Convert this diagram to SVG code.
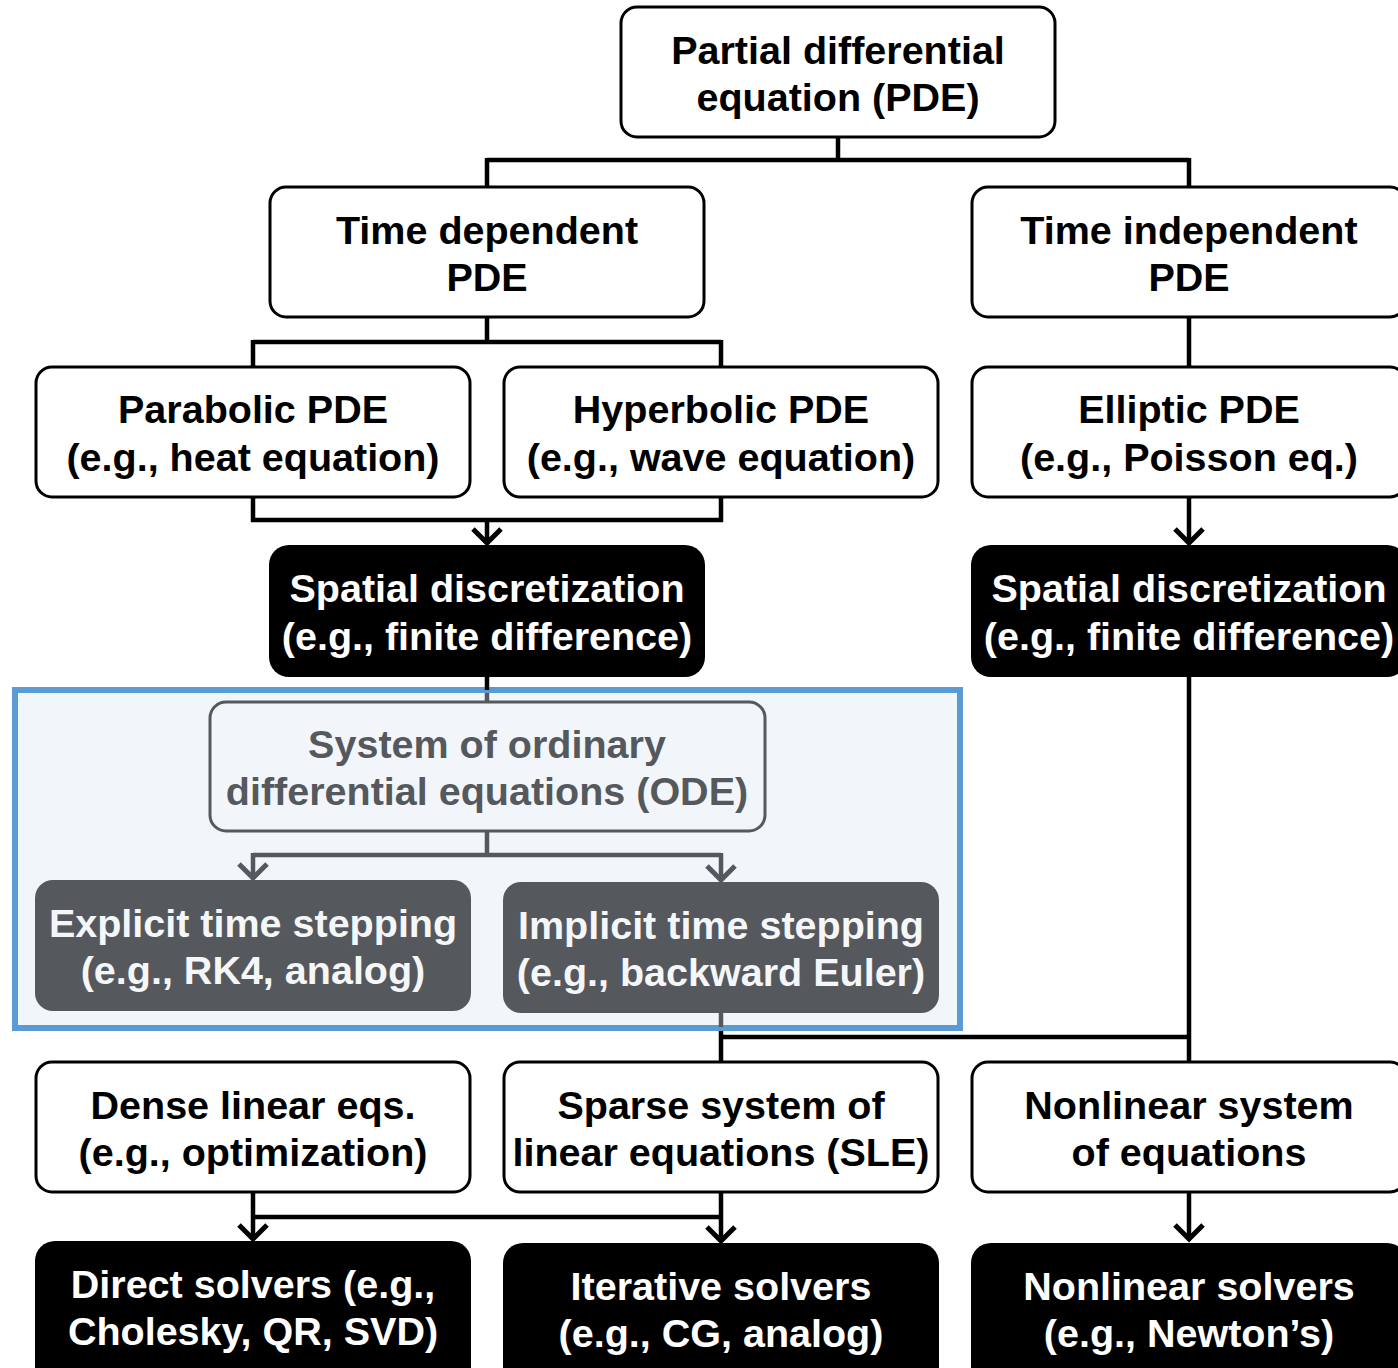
<svg xmlns="http://www.w3.org/2000/svg" width="1398" height="1368" viewBox="0 0 1398 1368">
<style>
.t{font-family:"Liberation Sans",Arial,Helvetica,sans-serif;font-weight:bold;font-size:39.5px;text-anchor:middle}
.w{fill:#fff;stroke:#000;stroke-width:3}
.k{fill:#000}
.g{fill:#55595e}
.o{fill:#f2f6fa;stroke:#55595e;stroke-width:3}
.tk{fill:#000}
.tw{fill:#fff}
.tg{fill:#55595e}
.tl{fill:#f4f6f8}
.ln{fill:none;stroke:#000;stroke-width:4.5}
.lg{fill:none;stroke:#55595e;stroke-width:4.5}
.ah{fill:none;stroke:#000;stroke-width:5}
.ag{fill:none;stroke:#55595e;stroke-width:5}
</style>
<rect width="1398" height="1368" fill="#fff"/>
<g id="ode-region">
<rect x="15" y="690" width="945" height="338" fill="#f1f6fb" stroke="#5b9bd5" stroke-width="6"/>
</g>
<g id="connectors">
<path class="ln" d="M838 137V160M487 160H1189M487 158V187M1189 158V187"/>
<path class="ln" d="M487 317V342M253 342H721M253 340V367M721 340V367"/>
<path class="ln" d="M1189 317V367"/>
<path class="ln" d="M253 497V520H721V497M487 520V542"/>
<path class="ah" d="M473 529L487 543L501 529"/>
<path class="ln" d="M1189 497V542"/>
<path class="ah" d="M1175 529L1189 543L1203 529"/>
<path class="ln" d="M487 677V690"/>
<path class="lg" d="M487 693V702"/>
<path class="lg" d="M487 831V855M253 855H721M253 853V877M721 853V879"/>
<path class="ag" d="M239 864L253 878L267 864M707 866L721 880L735 866"/>
<path class="lg" d="M721 1013V1027"/>
<path class="ln" d="M721 1031V1062M719 1037H1191M1189 677V1062"/>
<path class="ln" d="M253 1192V1238M721 1192V1240M253 1217H721"/>
<path class="ah" d="M239 1225L253 1239L267 1225M707 1227L721 1241L735 1227"/>
<path class="ln" d="M1189 1192V1238"/>
<path class="ah" d="M1175 1225L1189 1239L1203 1225"/>
</g>
<g id="pde">
<rect class="w" x="621" y="7" width="434" height="130" rx="16"/>
<text class="t tk" x="838" y="64">Partial differential</text>
<text class="t tk" x="838" y="111">equation (PDE)</text>
</g>
<g id="time-dependent">
<rect class="w" x="270" y="187" width="434" height="130" rx="16"/>
<text class="t tk" x="487" y="244">Time dependent</text>
<text class="t tk" x="487" y="291">PDE</text>
</g>
<g id="time-independent">
<rect class="w" x="972" y="187" width="434" height="130" rx="16"/>
<text class="t tk" x="1189" y="244">Time independent</text>
<text class="t tk" x="1189" y="291">PDE</text>
</g>
<g id="parabolic">
<rect class="w" x="36" y="367" width="434" height="130" rx="16"/>
<text class="t tk" x="253" y="423">Parabolic PDE</text>
<text class="t tk" x="253" y="471">(e.g., heat equation)</text>
</g>
<g id="hyperbolic">
<rect class="w" x="504" y="367" width="434" height="130" rx="16"/>
<text class="t tk" x="721" y="423">Hyperbolic PDE</text>
<text class="t tk" x="721" y="471">(e.g., wave equation)</text>
</g>
<g id="elliptic">
<rect class="w" x="972" y="367" width="434" height="130" rx="16"/>
<text class="t tk" x="1189" y="423">Elliptic PDE</text>
<text class="t tk" x="1189" y="471">(e.g., Poisson eq.)</text>
</g>
<g id="spatial-left">
<rect class="k" x="269" y="545" width="436" height="132" rx="20"/>
<text class="t tw" x="487" y="602">Spatial discretization</text>
<text class="t tw" x="487" y="650">(e.g., finite difference)</text>
</g>
<g id="spatial-right">
<rect class="k" x="971" y="545" width="436" height="132" rx="20"/>
<text class="t tw" x="1189" y="602">Spatial discretization</text>
<text class="t tw" x="1189" y="650">(e.g., finite difference)</text>
</g>
<g id="ode">
<rect class="o" x="210" y="702" width="555" height="129" rx="16"/>
<text class="t tg" x="487" y="758">System of ordinary</text>
<text class="t tg" x="487" y="805">differential equations (ODE)</text>
</g>
<g id="explicit">
<rect class="g" x="35" y="880" width="436" height="131" rx="18"/>
<text class="t tl" x="253" y="937">Explicit time stepping</text>
<text class="t tl" x="253" y="984">(e.g., RK4, analog)</text>
</g>
<g id="implicit">
<rect class="g" x="503" y="882" width="436" height="131" rx="18"/>
<text class="t tl" x="721" y="939">Implicit time stepping</text>
<text class="t tl" x="721" y="986">(e.g., backward Euler)</text>
</g>
<g id="dense">
<rect class="w" x="36" y="1062" width="434" height="130" rx="16"/>
<text class="t tk" x="253" y="1119">Dense linear eqs.</text>
<text class="t tk" x="253" y="1166">(e.g., optimization)</text>
</g>
<g id="sparse">
<rect class="w" x="504" y="1062" width="434" height="130" rx="16"/>
<text class="t tk" x="721" y="1119">Sparse system of</text>
<text class="t tk" x="721" y="1166">linear equations (SLE)</text>
</g>
<g id="nonlinear-system">
<rect class="w" x="972" y="1062" width="434" height="130" rx="16"/>
<text class="t tk" x="1189" y="1119">Nonlinear system</text>
<text class="t tk" x="1189" y="1166">of equations</text>
</g>
<g id="direct">
<rect class="k" x="35" y="1241" width="436" height="150" rx="20"/>
<text class="t tw" x="253" y="1298">Direct solvers (e.g.,</text>
<text class="t tw" x="253" y="1345">Cholesky, QR, SVD)</text>
</g>
<g id="iterative">
<rect class="k" x="503" y="1243" width="436" height="150" rx="20"/>
<text class="t tw" x="721" y="1300">Iterative solvers</text>
<text class="t tw" x="721" y="1347">(e.g., CG, analog)</text>
</g>
<g id="nonlinear-solvers">
<rect class="k" x="971" y="1243" width="436" height="150" rx="20"/>
<text class="t tw" x="1189" y="1300">Nonlinear solvers</text>
<text class="t tw" x="1189" y="1347">(e.g., Newton’s)</text>
</g>
</svg>
